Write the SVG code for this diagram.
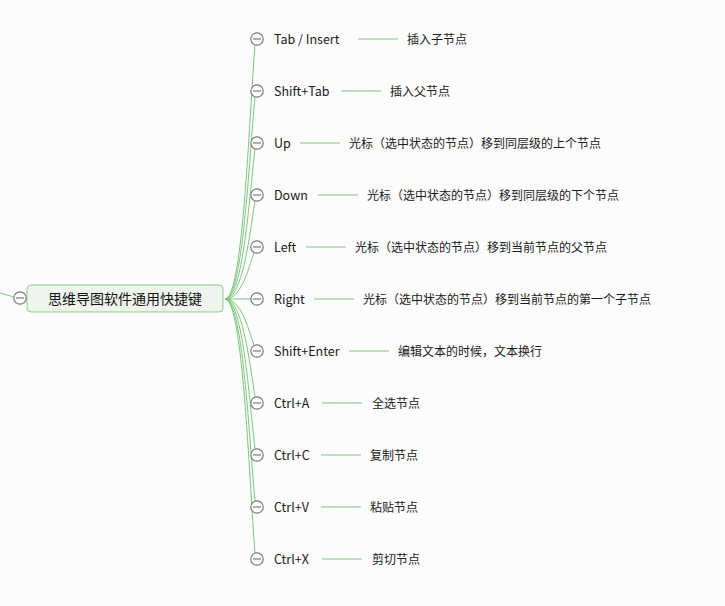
<svg xmlns="http://www.w3.org/2000/svg" width="725" height="606" viewBox="0 0 725 606">
<defs>
<style>
.bg{fill:#fcfcfc}
.conn path,.conn line{fill:none;stroke:#7cc67c;stroke-width:1}
.tgc{fill:#ffffff;stroke:#7a7a7a;stroke-width:1.2}
.tgl{stroke:#7a7a7a;stroke-width:1.2}
.root rect{fill:#eef5ec;stroke:#8dc98d;stroke-width:1}
.rt{font-family:"Noto Sans CJK SC","Microsoft YaHei",sans-serif;font-size:14px;fill:#111}
.k{font-family:"Noto Sans CJK SC","Microsoft YaHei",sans-serif;font-size:12.5px;fill:#1a1a1a}
.d{font-family:"Noto Sans CJK SC","Microsoft YaHei",sans-serif;font-size:12px;fill:#1a1a1a}
</style>
<g id="tg"><circle class="tgc" cx="0" cy="0" r="6.2" fill="#ffffff" stroke="#7a7a7a"/><line class="tgl" x1="-4" y1="0" x2="4" y2="0" stroke="#7a7a7a"/></g>
</defs>
<rect class="bg" x="0" y="0" width="725" height="606"/>
<g id="connectors" class="conn">
<line x1="0" y1="293" x2="14" y2="297"/>
<path d="M225,299 C243,299 249,120 255,45"/>
<path d="M225,299 C243,299 249,160 255,97"/>
<path d="M225,299 C243,299 249,200 255,149"/>
<path d="M225,299 C242,299 249,240 255,201"/>
<path d="M225,299 C241,299 248,270 254,253"/>
<line x1="225" y1="299" x2="251" y2="299"/>
<path d="M225,299 C241,299 248,328 254,345"/>
<path d="M225,299 C242,299 249,358 255,397"/>
<path d="M225,299 C243,299 249,398 255,449"/>
<path d="M225,299 C243,299 249,438 255,501"/>
<path d="M225,299 C243,299 249,478 255,553"/>
<line x1="358" y1="39" x2="398" y2="39"/>
<line x1="341" y1="91" x2="381" y2="91"/>
<line x1="300" y1="143" x2="340" y2="143"/>
<line x1="318" y1="195" x2="358" y2="195"/>
<line x1="306" y1="247" x2="346" y2="247"/>
<line x1="314" y1="299" x2="354" y2="299"/>
<line x1="349" y1="351" x2="389" y2="351"/>
<line x1="322" y1="403" x2="362" y2="403"/>
<line x1="321" y1="455" x2="361" y2="455"/>
<line x1="321" y1="507" x2="361" y2="507"/>
<line x1="322" y1="559" x2="362" y2="559"/>
</g>
<g id="root" class="root">
<rect x="27" y="285" width="196" height="27" rx="4"/>
<text class="rt" x="125" y="303.5" text-anchor="middle">思维导图软件通用快捷键</text>
<use href="#tg" x="20" y="298"/>
</g>
<g id="n1"><use href="#tg" x="257" y="39"/><text class="k" x="274" y="43.5">Tab / Insert</text><text class="d" x="407" y="43.5">插入子节点</text></g>
<g id="n2"><use href="#tg" x="257" y="91"/><text class="k" x="274" y="95.5">Shift+Tab</text><text class="d" x="390" y="95.5">插入父节点</text></g>
<g id="n3"><use href="#tg" x="257" y="143"/><text class="k" x="274" y="147.5">Up</text><text class="d" x="349" y="147.5">光标（选中状态的节点）移到同层级的上个节点</text></g>
<g id="n4"><use href="#tg" x="257" y="195"/><text class="k" x="274" y="199.5">Down</text><text class="d" x="367" y="199.5">光标（选中状态的节点）移到同层级的下个节点</text></g>
<g id="n5"><use href="#tg" x="257" y="247"/><text class="k" x="274" y="251.5">Left</text><text class="d" x="355" y="251.5">光标（选中状态的节点）移到当前节点的父节点</text></g>
<g id="n6"><use href="#tg" x="257" y="299"/><text class="k" x="274" y="303.5">Right</text><text class="d" x="363" y="303.5">光标（选中状态的节点）移到当前节点的第一个子节点</text></g>
<g id="n7"><use href="#tg" x="257" y="351"/><text class="k" x="274" y="355.5">Shift+Enter</text><text class="d" x="398" y="355.5">编辑文本的时候，文本换行</text></g>
<g id="n8"><use href="#tg" x="257" y="403"/><text class="k" x="274" y="407.5">Ctrl+A</text><text class="d" x="372" y="407.5">全选节点</text></g>
<g id="n9"><use href="#tg" x="257" y="455"/><text class="k" x="274" y="459.5">Ctrl+C</text><text class="d" x="370" y="459.5">复制节点</text></g>
<g id="n10"><use href="#tg" x="257" y="507"/><text class="k" x="274" y="511.5">Ctrl+V</text><text class="d" x="370" y="511.5">粘贴节点</text></g>
<g id="n11"><use href="#tg" x="257" y="559"/><text class="k" x="274" y="563.5">Ctrl+X</text><text class="d" x="372" y="563.5">剪切节点</text></g>
</svg>
